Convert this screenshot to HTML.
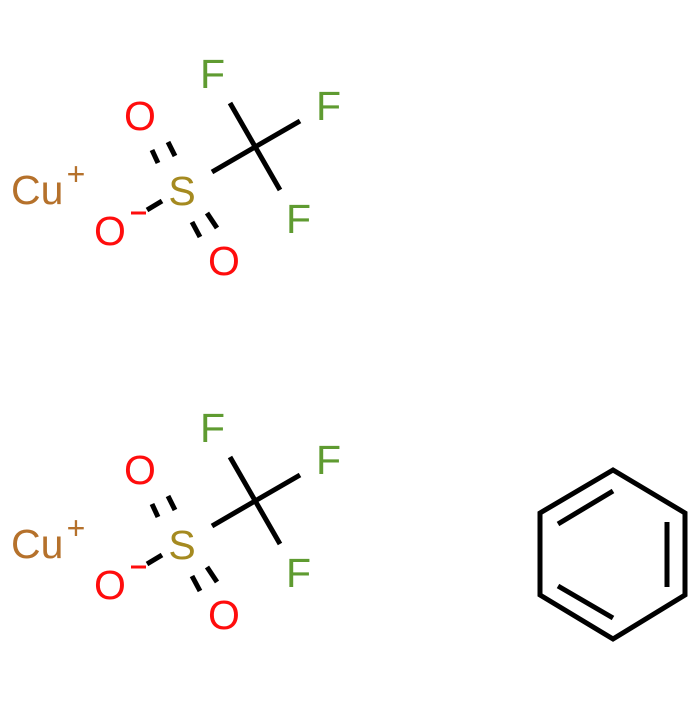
<!DOCTYPE html>
<html><head><style>
html,body{margin:0;padding:0;background:#fff;}
svg text{font-family:"Liberation Sans",sans-serif;font-size:41px;}
</style></head><body>
<svg width="700" height="700" viewBox="0 0 700 700" xmlns="http://www.w3.org/2000/svg">
<defs>
<g id="m">
<g stroke="#000" stroke-width="5" fill="none">
<line x1="212" y1="172" x2="255" y2="147"/>
<line x1="230" y1="103" x2="280" y2="190"/>
<line x1="255" y1="147" x2="300" y2="121"/>
<line x1="147" y1="210" x2="162" y2="201"/>
<line x1="152" y1="150" x2="158" y2="163"/>
<line x1="168" y1="142" x2="175" y2="156"/>
<line x1="192" y1="222" x2="200" y2="237"/>
<line x1="207" y1="213" x2="217" y2="228"/>
</g>
<text x="200" y="88" fill="#5f9b31">F</text>
<text x="316" y="120" fill="#5f9b31">F</text>
<text x="286" y="233" fill="#5f9b31">F</text>
<text x="140" y="130" fill="#ff0d0d" text-anchor="middle">O</text>
<text x="224" y="275" fill="#ff0d0d" text-anchor="middle">O</text>
<text x="110" y="245" fill="#ff0d0d" text-anchor="middle">O</text>
<line x1="131" y1="213" x2="146" y2="213" stroke="#ff0d0d" stroke-width="3"/>
<text x="182" y="205" fill="#a58a20" text-anchor="middle">S</text>
<text x="11" y="204" fill="#b5712b">Cu</text>
<text x="76" y="185" fill="#b5712b" text-anchor="middle" style="font-size:32px">+</text>
</g>
</defs>
<use href="#m"/>
<use href="#m" transform="translate(0,354)"/>
<g stroke="#000" stroke-width="5" fill="none" stroke-linejoin="miter">
<polygon points="613,470 685,513 685,595 613,639 540,595 540,513"/>
<line x1="558" y1="524" x2="613" y2="491"/>
<line x1="667" y1="522" x2="667" y2="587"/>
<line x1="558" y1="586" x2="613" y2="618"/>
</g>
</svg>
</body></html>
